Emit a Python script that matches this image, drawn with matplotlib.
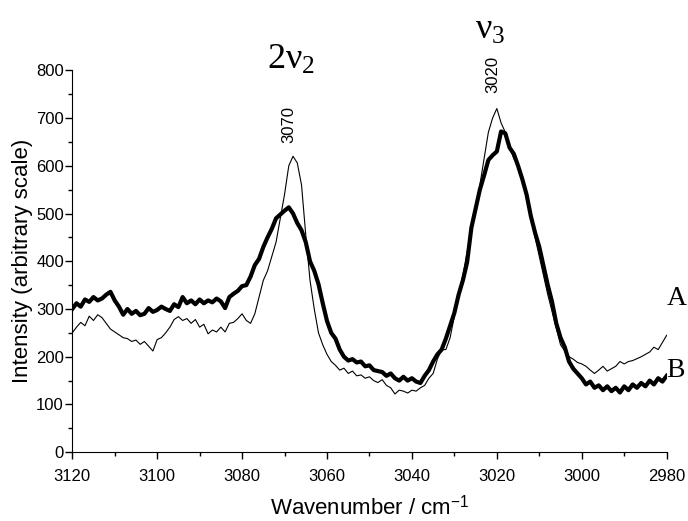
import numpy as np
import matplotlib
matplotlib.use("Agg")
import matplotlib.pyplot as plt

#************************************ Data, 1 cm-1 steps
wavenumber = list(range(3120, 2979, -1))

spectrum_a = [
    250, 262, 272, 265, 285, 276, 288, 282, 270, 258,
    252, 246, 240, 238, 232, 235, 226, 232, 222, 212,
    236, 240, 250, 262, 278, 284, 276, 280, 270, 278,
    262, 268, 248, 256, 252, 262, 252, 270, 272, 280,
    290, 276, 270, 290, 325, 360, 380, 410, 440, 490,
    540, 600, 620, 606, 560, 455, 360, 300, 250, 225,
    205, 190, 182, 172, 176, 165, 170, 160, 162, 155,
    158, 150, 146, 152, 140, 135, 122, 130, 128, 124,
    130, 128, 135, 140, 155, 165, 195, 215, 215, 240,
    285, 330, 370, 420, 460, 510, 560, 615, 670, 700,
    720, 690, 670, 640, 615, 600, 570, 530, 490, 450,
    410, 370, 330, 295, 260, 225, 212, 200, 195, 188,
    185, 180, 172, 165, 172, 180, 170, 175, 180, 190,
    185, 190, 192, 196, 200, 205, 210, 220, 215, 230,
    245,
]

spectrum_b = [
    300, 312, 305, 320, 315, 325, 318, 322, 330, 336,
    318, 305, 288, 300, 290, 296, 287, 290, 302, 294,
    298, 305, 300, 296, 310, 304, 325, 312, 318, 310,
    320, 312, 318, 314, 322, 316, 302, 325, 332, 338,
    348, 350, 368, 392, 405, 430, 450, 468, 490, 498,
    506, 513, 500, 480, 465, 440, 400, 380, 352, 312,
    275, 250, 238, 215, 200, 192, 195, 188, 190, 180,
    182, 172, 170, 168, 160, 165, 155, 150, 158, 150,
    155, 148, 145, 160, 172, 190, 205, 215, 238, 265,
    292, 330, 360, 398, 470, 510, 550, 580, 612, 622,
    630, 672, 668, 638, 625, 600, 572, 540, 495, 460,
    430, 390, 350, 315, 270, 240, 220, 190, 175, 165,
    155, 142, 148, 135, 140, 130, 138, 128, 135, 125,
    138, 130, 142, 135, 145, 138, 150, 142, 155, 148,
    160,
]

band_names = [r"$\mathrm{2\nu_2}$", r"$\mathrm{\nu_3}$"]
band_pos = [3068.5, 3021.5]
band_y = [822, 885]

peak_labels = ["3070", "3020"]
peak_pos = [3069, 3021]
peak_y = [648, 752]

plt.rcParams["font.family"] = ["Liberation Sans", "DejaVu Sans"]
plt.rcParams["mathtext.fontset"] = "custom"
plt.rcParams["mathtext.rm"] = "Liberation Serif"
plt.rcParams["mathtext.it"] = "Liberation Serif:italic"

fig = plt.figure(figsize=(6.88, 5.21), dpi=100)
ax = fig.add_axes([0.105, 0.132, 0.864, 0.733])

ax.plot(wavenumber, spectrum_a, color="black", lw=0.8)
ax.plot(wavenumber, spectrum_b, color="black", lw=3.0)

ax.set_xlim(3120, 2980)
ax.set_ylim(0, 800)
ax.set_xticks(np.arange(3120, 2979, -20))
ax.set_xticks(np.arange(3120, 2979, -10), minor=True)
ax.set_yticks(np.arange(0, 801, 100))
ax.set_yticks(np.arange(0, 801, 50), minor=True)

for s in ["top", "right"]:
    ax.spines[s].set_visible(False)
ax.tick_params(which="major", direction="out", length=5, width=1, labelsize=12, pad=1)
ax.tick_params(which="minor", direction="out", length=3, width=1)
ax.tick_params(axis="x", pad=7)

ax.set_xlabel("Wavenumber / cm$^{\\mathregular{-1}}$", fontsize=16, labelpad=8)
ax.set_ylabel("Intensity (arbitrary scale)", fontsize=16, labelpad=2)

#************************************ Annotations
for name, x, y in zip(band_names, band_pos, band_y):
    ax.text(x, y, name, fontsize=26, ha="center", va="center", clip_on=False)

for lab, x, y in zip(peak_labels, peak_pos, peak_y):
    ax.text(x, y, lab, fontsize=12, rotation=90, ha="center", va="bottom")

ax.text(2980, spectrum_a[-1] + 78, "A", fontsize=20, family="Liberation Serif",
        ha="left", va="center", clip_on=False)
ax.text(2980, spectrum_b[-1] + 12, "B", fontsize=20, family="Liberation Serif",
        ha="left", va="center", clip_on=False)

fig.savefig("out.png", dpi=100)
